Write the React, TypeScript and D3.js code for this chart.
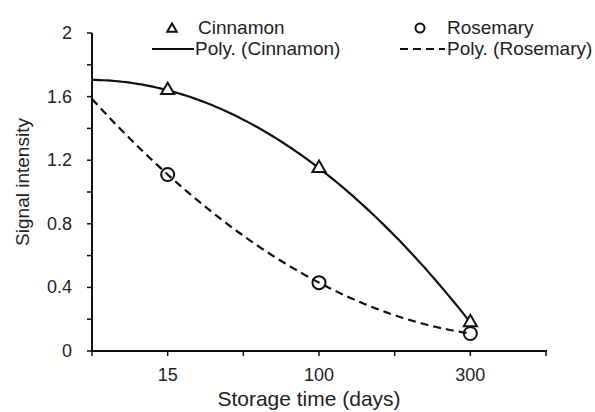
import React from 'react';
import * as d3 from 'd3';

const categories = ['15', '100', '300'];
const cinnamon = [1.64, 1.15, 0.18];
const rosemary = [1.11, 0.43, 0.11];
const yTicks = [0, 0.4, 0.8, 1.2, 1.6, 2];

const W = 595;
const H = 412;
const FONT = '"Liberation Sans", Arial, sans-serif';

// least squares polynomial (order 2) like the Excel trendline
function polyFit(xs: number[], ys: number[]) {
  const n = xs.length;
  const S = (p: number) => d3.sum(xs, (x) => Math.pow(x, p));
  const T = (p: number) => d3.sum(xs.map((x, i) => Math.pow(x, p) * ys[i]));
  const A = [
    [n, S(1), S(2)],
    [S(1), S(2), S(3)],
    [S(2), S(3), S(4)],
  ];
  const B = [T(0), T(1), T(2)];
  // gaussian elimination
  for (let i = 0; i < 3; i++) {
    for (let k = i + 1; k < 3; k++) {
      const f = A[k][i] / A[i][i];
      for (let j = i; j < 3; j++) A[k][j] -= f * A[i][j];
      B[k] -= f * B[i];
    }
  }
  const c = [0, 0, 0];
  for (let i = 2; i >= 0; i--) {
    let s = B[i];
    for (let j = i + 1; j < 3; j++) s -= A[i][j] * c[j];
    c[i] = s / A[i][i];
  }
  return (x: number) => c[0] + c[1] * x + c[2] * x * x;
}

export default function App() {
  const x = d3.scaleLinear().domain([0.5, 3.5]).range([92, 546]);
  const y = d3.scaleLinear().domain([0, 2]).range([351, 33]);
  const idx = categories.map((_, i) => i + 1);

  const line = d3
    .line<number[]>()
    .x((d) => x(d[0]))
    .y((d) => y(d[1]));

  const trend = (vals: number[]) => {
    const f = polyFit(idx, vals);
    const pts = d3.range(0.5, 3.0001, 0.025).map((t) => [t, f(t)]);
    return line(pts) || '';
  };

  const tri = d3.symbol().type(d3.symbolTriangle).size(75)() || '';

  const xTickVals = d3.range(0.5, 3.51, 0.5);
  const yMinor = d3.range(0, 2.01, 0.2);

  return (
    <svg width={W} height={H} style={{ position: 'absolute', left: 0, top: 0, background: '#fff' }} fontFamily={FONT}>
      {/* axes */}
      <line x1={92} x2={92} y1={y(2)} y2={y(0)} stroke="#111" strokeWidth={2} />
      <line x1={91} x2={547} y1={y(0)} y2={y(0)} stroke="#111" strokeWidth={2} />
      {yMinor.map((v) => (
        <line key={'yt' + v} x1={87} x2={92} y1={y(v)} y2={y(v)} stroke="#111" strokeWidth={1.5} />
      ))}
      {yTicks.map((v) => (
        <text key={'yl' + v} x={72} y={y(v) + 6} textAnchor="end" fontSize={18} fill="#222">
          {v}
        </text>
      ))}
      {xTickVals.map((v) => (
        <line key={'xt' + v} x1={x(v)} x2={x(v)} y1={y(0)} y2={y(0) + 5} stroke="#111" strokeWidth={1.5} />
      ))}
      {categories.map((c, i) => (
        <text key={'xl' + c} x={x(i + 1)} y={381} textAnchor="middle" fontSize={18} fill="#222">
          {c}
        </text>
      ))}
      <text x={309} y={406} textAnchor="middle" fontSize={21} fill="#222">
        Storage time (days)
      </text>
      <text transform="translate(29,182) rotate(-90)" textAnchor="middle" fontSize={19} fill="#222">
        Signal intensity
      </text>

      {/* trendlines */}
      <path d={trend(cinnamon)} fill="none" stroke="#111" strokeWidth={2.2} />
      <path d={trend(rosemary)} fill="none" stroke="#111" strokeWidth={2.2} strokeDasharray="8,5" />

      {/* markers */}
      {cinnamon.map((v, i) => (
        <path key={'c' + i} d={tri} transform={`translate(${x(i + 1)},${y(v)})`} fill="#fff" stroke="#111" strokeWidth={2} />
      ))}
      {rosemary.map((v, i) => (
        <circle key={'r' + i} cx={x(i + 1)} cy={y(v)} r={6.5} fill="none" stroke="#111" strokeWidth={2} />
      ))}

      {/* legend */}
      <path d={d3.symbol().type(d3.symbolTriangle).size(40)() || ''} transform="translate(172,29)" fill="#fff" stroke="#111" strokeWidth={2} />
      <text x={198} y={34} fontSize={19} fill="#222">Cinnamon</text>
      <line x1={152} x2={194} y1={49} y2={49} stroke="#111" strokeWidth={2} />
      <text x={195} y={55} fontSize={19} fill="#222">Poly. (Cinnamon)</text>
      <circle cx={420} cy={28} r={4.5} fill="none" stroke="#111" strokeWidth={2} />
      <text x={447} y={34} fontSize={19} fill="#222">Rosemary</text>
      <line x1={400} x2={445} y1={49} y2={49} stroke="#111" strokeWidth={2} strokeDasharray="8,5" />
      <text x={447} y={55} fontSize={19} fill="#222">Poly. (Rosemary)</text>
    </svg>
  );
}
